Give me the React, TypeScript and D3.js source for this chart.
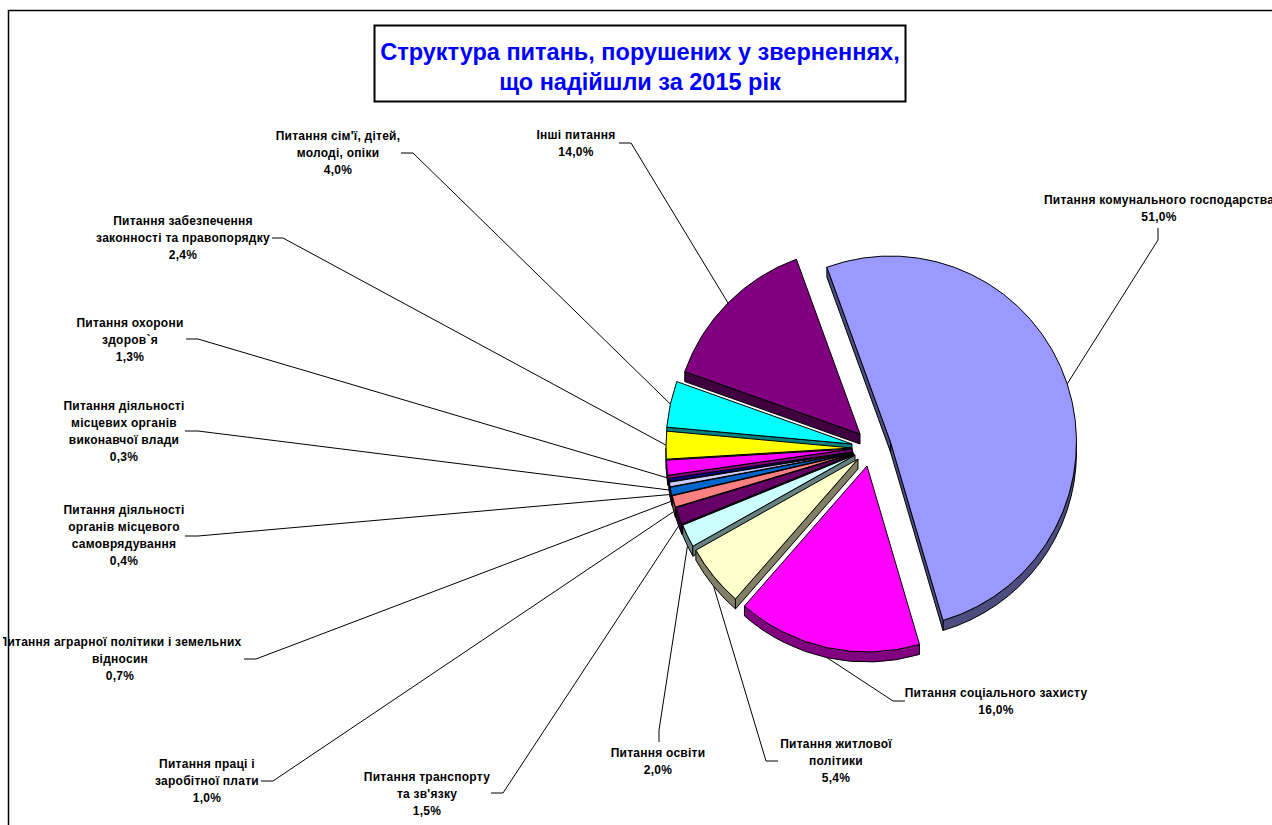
import React from "react";
import * as d3 from "d3";

// Shares of appeal topics, in percent
const values = [51, 16, 5.4, 2, 1.5, 1, 0.7, 0.4, 0.3, 1.3, 2.4, 4, 14];

const categoryLines = [
  ["Питання комунального господарства"],
  ["Питання соціального захисту"],
  ["Питання житлової", "політики"],
  ["Питання освіти"],
  ["Питання транспорту", "та зв'язку"],
  ["Питання праці і", "заробітної плати"],
  ["Питання аграрної політики і земельних", "відносин"],
  ["Питання діяльності", "органів місцевого", "самоврядування"],
  ["Питання діяльності", "місцевих органів", "виконавчої влади"],
  ["Питання охорони", "здоров`я"],
  ["Питання забезпечення", "законності та правопорядку"],
  ["Питання сім'ї, дітей,", "молоді, опіки"],
  ["Інші питання"],
];

const sliceColors = [
  "#9999FF", "#FF00FF", "#FFFFCC", "#CCFFFF", "#660066", "#FF8080", "#0066CC",
  "#CCCCFF", "#000080", "#FF00FF", "#FFFF00", "#00FFFF", "#800080",
];

const titleLines = ["Структура питань, порушених у зверненнях,", "що надійшли за 2015 рік"];

// Layout of the pie
const WIDTH = 1272;
const HEIGHT = 825;
const CENTER = { x: 853, y: 450 };
const RADIUS = 186;
const DEPTH = 10;
const START_DEG = -20;

// Per-slice displacement from the pie centre (exploded wedges)
const offsetX = [37.5, 14, 5, 2, 1, 0.5, 0, 0, 0, -1, -1, -1, 7];
const offsetY = [-8, 16, 9, 5, 4, 3.5, 3, 2.5, 2, -1, -2, -6, -16];

// Label placement: centre x, y of the first line's middle
const labelX = [1159, 996, 836, 658, 427, 207, 120, 124, 124, 130, 183, 338, 576];
const labelY = [200, 693, 744, 753, 777, 764, 642, 510, 406, 323, 221, 136, 135];
const LINE_HEIGHT = 17;

// Leader lines: horizontal stub start, then elbow
const stubX = [1158, 905, 778, 659, 491, 261, 244, 185, 185, 186, 272, 401, 619];
const stubY = [228, 701, 761, 742, 793, 781, 659, 536, 431, 339, 238, 153, 143];
const elbowX = [1158, 893, 766, 659, 503, 273, 256, 198, 198, 198, 283, 413, 631];
const elbowY = [240, 701, 761, 730, 793, 781, 659, 536, 431, 339, 238, 153, 143];

const pieLayout = d3
  .pie<number>()
  .sort(null)
  .startAngle((START_DEG * Math.PI) / 180)
  .endAngle(((START_DEG + 360) * Math.PI) / 180);

const wedgeArc = d3.arc<any>().innerRadius(0).outerRadius(RADIUS);

const darken = (c: string) => {
  const r = d3.rgb(c);
  return d3.rgb(r.r * 0.5, r.g * 0.5, r.b * 0.5).formatHex();
};

const polar = (a: number, r: number) => [r * Math.sin(a), -r * Math.cos(a)];

// Side faces of a wedge extruded downwards, relative to its apex
function wallPaths(a0: number, a1: number): string[] {
  const out: string[] = [];
  const lo = Math.max(a0, Math.PI / 2);
  const hi = Math.min(a1, (3 * Math.PI) / 2);
  if (hi > lo) {
    const p = d3.path();
    const [x0, y0] = polar(lo, RADIUS);
    const [x1, y1] = polar(hi, RADIUS);
    p.moveTo(x0, y0);
    p.arc(0, 0, RADIUS, lo - Math.PI / 2, hi - Math.PI / 2);
    p.lineTo(x1, y1 + DEPTH);
    p.arc(0, DEPTH, RADIUS, hi - Math.PI / 2, lo - Math.PI / 2, true);
    p.closePath();
    out.push(p.toString());
  }
  const quad = (a: number) => {
    const [x, y] = polar(a, RADIUS);
    const p = d3.path();
    p.moveTo(0, 0);
    p.lineTo(x, y);
    p.lineTo(x, y + DEPTH);
    p.lineTo(0, DEPTH);
    p.closePath();
    return p.toString();
  };
  if (Math.sin(a0) < 0) out.push(quad(a0));
  if (Math.sin(a1) > 0) out.push(quad(a1));
  return out;
}

const formatPercent = (v: number) => d3.format(".1f")(v).replace(".", ",") + "%";

export default function App() {
  const arcs = pieLayout(values);
  const leaderPath = d3.line();
  const font = "'Liberation Sans', Arial, sans-serif";

  const leaders = arcs.map((d, i) => {
    const mid = (d.startAngle + d.endAngle) / 2;
    const [px, py] = polar(mid, RADIUS);
    const bottom = Math.cos(mid) < 0;
    const ax = CENTER.x + offsetX[i] + px;
    const ay = CENTER.y + offsetY[i] + py + (bottom ? DEPTH : 0);
    return leaderPath([
      [stubX[i], stubY[i]],
      [elbowX[i], elbowY[i]],
      [ax, ay],
    ]) as string;
  });

  // Painted from the last wedge back to the first so each top covers its neighbour's wall
  const paintOrder = d3.range(values.length).reverse();

  return (
    <svg
      width={WIDTH}
      height={HEIGHT}
      viewBox={`0 0 ${WIDTH} ${HEIGHT}`}
      style={{ position: "absolute", left: 0, top: 0, display: "block", background: "#fff" }}
    >
      <defs>
        <clipPath id="chart-clip">
          <rect x={3} y={0} width={WIDTH} height={HEIGHT} />
        </clipPath>
      </defs>

      <path d={`M8.5,${HEIGHT}V10.5H${WIDTH}`} fill="none" stroke="#000" strokeWidth={1.5} />

      <rect x={374.5} y={25.5} width={531} height={76} fill="#fff" stroke="#000" strokeWidth={2} />
      {titleLines.map((t, i) => (
        <text
          key={t}
          x={640}
          y={60 + i * 30}
          textAnchor="middle"
          fontFamily={font}
          fontWeight="bold"
          fontSize={23.5}
          fill="#0000FF"
        >
          {t}
        </text>
      ))}

      <g fill="none" stroke="#000" strokeWidth={1}>
        {leaders.map((d, i) => (
          <path key={i} d={d} />
        ))}
      </g>

      <g stroke="#000" strokeWidth={1} strokeLinejoin="round">
        {paintOrder.map((i) => {
          const d = arcs[i];
          const tx = CENTER.x + offsetX[i];
          const ty = CENTER.y + offsetY[i];
          return (
            <g key={i} transform={`translate(${tx},${ty})`}>
              {wallPaths(d.startAngle, d.endAngle).map((w, k) => (
                <path key={k} d={w} fill={darken(sliceColors[i])} />
              ))}
              <path d={wedgeArc(d) as string} fill={sliceColors[i]} />
            </g>
          );
        })}
      </g>

      <g
        clipPath="url(#chart-clip)"
        fontFamily={font}
        fontWeight="bold"
        fontSize={12}
        letterSpacing={0.25}
        fill="#000"
        textAnchor="middle"
      >
        {categoryLines.map((lines, i) => (
          <text key={i}>
            {[...lines, formatPercent(values[i])].map((t, k) => (
              <tspan key={k} x={labelX[i]} y={labelY[i] + k * LINE_HEIGHT + 4}>
                {t}
              </tspan>
            ))}
          </text>
        ))}
      </g>
    </svg>
  );
}
